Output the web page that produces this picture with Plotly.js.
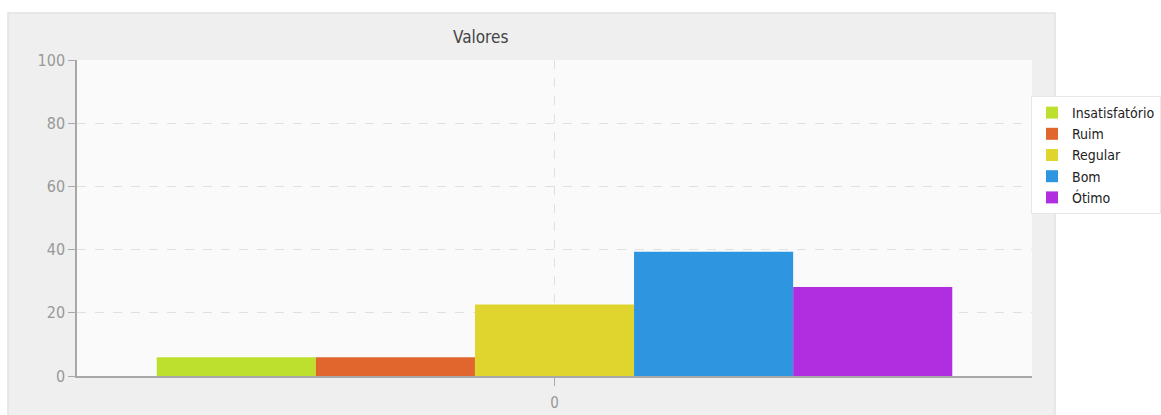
<!DOCTYPE html>
<html>
<head>
<meta charset="utf-8">
<script src="https://cdn.plot.ly/plotly-3.0.1.min.js"></script>
<style>html,body{margin:0;padding:0;background:#fff;}#chart{width:1161px;height:415px;}</style>
</head>
<body>
<div id="chart"></div>
<script>
const categories = ["0"];
const seriesNames = ["Insatisfatório", "Ruim", "Regular", "Bom", "Ótimo"];
const seriesValues = [[5.9], [5.9], [22.6], [39.3], [28.2]];
const seriesColors = ["#bde02e", "#e0662e", "#e0d52e", "#2e96e0", "#b02ee0"];
const yTicks = [0, 20, 40, 60, 80, 100];

const W = 1161, H = 415;
const mL = 77, mR = W - 1032, mT = 60, mB = H - 376;
const FONT = "'DejaVu Sans Condensed', 'Liberation Sans Narrow', 'Liberation Sans', sans-serif";

const traces = seriesNames.map((n, i) => ({
  type: 'bar',
  name: n,
  x: categories,
  y: seriesValues[i],
  marker: {color: seriesColors[i], line: {width: 0}},
  hoverinfo: 'name+y'
}));

const plotW = W - mL - mR;
const plotH = H - mT - mB;
const px2x = p => (p - mL) / plotW;
const py2y = p => (H - mB - p) / plotH;

const layout = {
  width: W, height: H,
  margin: {l: mL, r: mR, t: mT, b: mB, pad: 0, autoexpand: false},
  paper_bgcolor: '#ffffff',
  plot_bgcolor: 'rgba(0,0,0,0)',
  barmode: 'group',
  bargap: 0.167,
  bargroupgap: 0,
  font: {family: FONT, size: 15, color: '#999'},
  xaxis: {
    type: 'category',
    tickvals: categories,
    ticktext: categories,
    showline: true, linecolor: '#a8a8a8', linewidth: 1.5,
    ticks: 'outside', ticklen: 8, tickcolor: '#aaa',
    ticklabelstandoff: 4,
    showgrid: true, gridcolor: '#e0e0e0', griddash: 'dash', gridwidth: 1,
    tickfont: {family: FONT, size: 15, color: '#999'},
    automargin: false,
    fixedrange: true
  },
  yaxis: {
    range: [0, 100],
    tickvals: yTicks,
    showline: true, linecolor: '#a8a8a8', linewidth: 1.5,
    ticks: 'outside', ticklen: 7, tickcolor: '#aaa',
    showgrid: true, gridcolor: '#e0e0e0', griddash: 'dash', gridwidth: 1,
    zeroline: false,
    tickfont: {family: FONT, size: 16, color: '#999'},
    automargin: false,
    fixedrange: true
  },
  showlegend: true,
  legend: {
    x: px2x(1031), xanchor: 'left',
    y: py2y(96), yanchor: 'top',
    bgcolor: '#ffffff', bordercolor: '#e8e8e8', borderwidth: 1,
    font: {family: FONT, size: 14, color: '#222'},
    itemwidth: 30,
    tracegroupgap: 0
  },
  shapes: [{
    type: 'rect', xref: 'paper', yref: 'paper', layer: 'below',
    x0: px2x(8), x1: px2x(1055), y0: py2y(430), y1: py2y(13),
    fillcolor: '#efefef', line: {color: '#e2e2e2', width: 1.5}
  }, {
    type: 'rect', xref: 'paper', yref: 'paper', layer: 'below',
    x0: 0, x1: 1, y0: 0, y1: 1,
    fillcolor: '#fafafa', line: {width: 0}
  }],
  annotations: [{
    text: 'Valores', xref: 'paper', yref: 'paper',
    x: px2x(480), y: py2y(37), xanchor: 'center', yanchor: 'middle',
    showarrow: false, font: {family: FONT, size: 17, color: '#444'}
  }]
};

Plotly.newPlot('chart', traces, layout, {displayModeBar: false});
</script>
</body>
</html>
